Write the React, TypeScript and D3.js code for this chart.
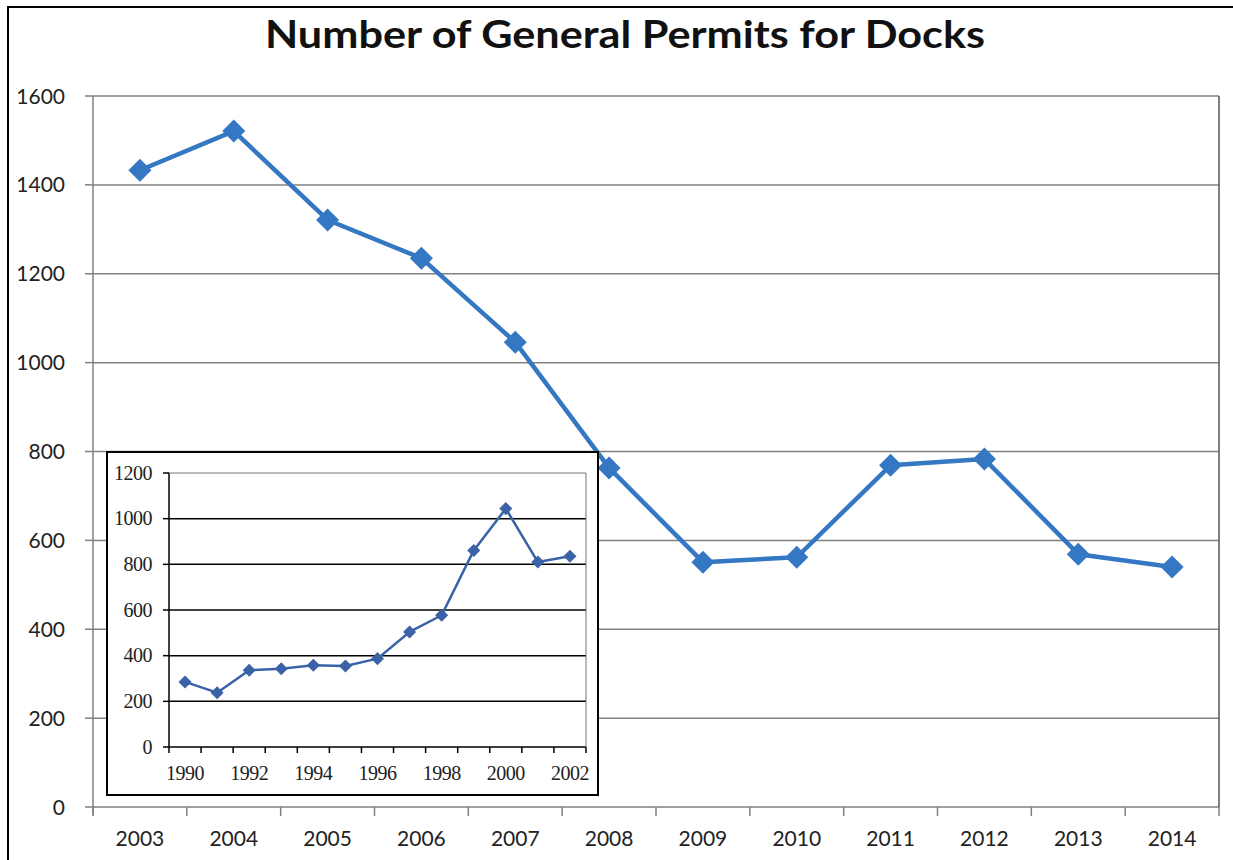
import React from "react";
import * as d3 from "d3";

const years = ["2003", "2004", "2005", "2006", "2007", "2008", "2009", "2010", "2011", "2012", "2013", "2014"];
const permits = [1433, 1521, 1321, 1235, 1046, 763, 551, 562, 769, 783, 569, 540];
const mainTicks = [0, 200, 400, 600, 800, 1000, 1200, 1400, 1600];

const insetYears = ["1990", "1991", "1992", "1993", "1994", "1995", "1996", "1997", "1998", "1999", "2000", "2001", "2002"];
const insetPermits = [285, 238, 336, 343, 358, 355, 387, 504, 577, 861, 1044, 810, 835];
const insetTicks = [0, 200, 400, 600, 800, 1000, 1200];

const title = "Number of General Permits for Docks";

export default function App() {
  // main plot
  const L = 93, R = 1219, T = 96, B = 807;
  const x = d3.scaleBand<string>().domain(years).range([L, R]).padding(0);
  const y = d3.scaleLinear().domain([0, 1600]).range([B, T]);
  const line = d3
    .line<number>()
    .x((_, i) => (x(years[i]) as number) + x.bandwidth() / 2)
    .y((d) => y(d));
  const diamond = d3.symbol().type(d3.symbolSquare).size(265)() as string;

  // inset plot
  const iL = 169, iR = 586, iT = 473, iB = 747;
  const ix = d3.scaleBand<string>().domain(insetYears).range([iL, iR]).padding(0);
  const iy = d3.scaleLinear().domain([0, 1200]).range([iB, iT]);
  const iline = d3
    .line<number>()
    .x((_, i) => (ix(insetYears[i]) as number) + ix.bandwidth() / 2)
    .y((d) => iy(d));
  const idiamond = d3.symbol().type(d3.symbolSquare).size(85)() as string;

  const mainBlue = "#3477c2";
  const insetBlue = "#3a62a6";
  const sans = "Lato, 'Open Sans', sans-serif";
  const serif = "'Liberation Serif', 'DejaVu Serif', serif";

  const boundaries = years.map((yr) => x(yr) as number).concat([R]);
  const iBoundaries = insetYears.map((yr) => ix(yr) as number).concat([iR]);

  return (
    <svg
      width={1233}
      height={860}
      style={{ position: "absolute", left: 0, top: 0, background: "#fff" }}
    >
      <rect x={0} y={0} width={1233} height={860} fill="#fff" />
      {/* outer border (left and top visible) */}
      <path d="M8,860 L8,7 L1233,7" fill="none" stroke="#000" strokeWidth={2} />

      {/* title */}
      <text
        x={625}
        y={48}
        textAnchor="middle"
        fontFamily={sans}
        fontWeight={700}
        fontSize={38}
        fill="#111"
        textLength={720}
        lengthAdjust="spacingAndGlyphs"
      >
        {title}
      </text>

      {/* main gridlines */}
      {mainTicks.map((t) => (
        <line key={"g" + t} x1={L} x2={R} y1={y(t)} y2={y(t)} stroke="#808080" strokeWidth={1.5} />
      ))}
      {/* right border */}
      <line x1={R} x2={R} y1={T} y2={B} stroke="#555" strokeWidth={1.5} />
      {/* y axis */}
      <line x1={L} x2={L} y1={T} y2={B + 8} stroke="#808080" strokeWidth={1.5} />
      {mainTicks.map((t) => (
        <g key={"yt" + t}>
          <line x1={L - 8} x2={L} y1={y(t)} y2={y(t)} stroke="#808080" strokeWidth={1.5} />
          <text x={65} y={y(t)} dy="0.36em" textAnchor="end" fontFamily={sans} fontSize={21} fill="#222">
            {t}
          </text>
        </g>
      ))}
      {/* x axis ticks */}
      {boundaries.map((bx, i) => (
        <line key={"xt" + i} x1={bx} x2={bx} y1={B} y2={B + 9} stroke="#808080" strokeWidth={1.5} />
      ))}
      {years.map((yr) => (
        <text
          key={"xl" + yr}
          x={(x(yr) as number) + x.bandwidth() / 2}
          y={838}
          dy="0.36em"
          textAnchor="middle"
          fontFamily={sans}
          fontSize={21}
          fill="#222"
        >
          {yr}
        </text>
      ))}

      {/* main line */}
      <path d={line(permits) as string} fill="none" stroke={mainBlue} strokeWidth={4.5} strokeLinejoin="round" />
      {permits.map((v, i) => (
        <path
          key={"m" + i}
          d={diamond}
          transform={`translate(${(x(years[i]) as number) + x.bandwidth() / 2},${y(v)}) rotate(45)`}
          fill={mainBlue}
        />
      ))}

      {/* inset */}
      <rect x={107} y={452} width={491} height={343} fill="#fff" stroke="#000" strokeWidth={2} />
      {insetTicks.map((t) => (
        <line
          key={"ig" + t}
          x1={iL}
          x2={iR}
          y1={iy(t)}
          y2={iy(t)}
          stroke={t === 1200 ? "#777" : "#000"}
          strokeWidth={t === 1200 ? 1 : 1.5}
        />
      ))}
      <line x1={iR} x2={iR} y1={iT} y2={iB} stroke="#777" strokeWidth={1} />
      <line x1={iL} x2={iL} y1={iT} y2={iB} stroke="#000" strokeWidth={1.5} />
      {insetTicks.map((t) => (
        <g key={"iyt" + t}>
          <line x1={iL - 6} x2={iL} y1={iy(t)} y2={iy(t)} stroke="#000" strokeWidth={1.5} />
          <text x={152} y={iy(t)} dy="0.34em" textAnchor="end" fontFamily={serif} fontSize={20} fill="#222" letterSpacing={-0.5}>
            {t}
          </text>
        </g>
      ))}
      {iBoundaries.map((bx, i) => (
        <line key={"ixt" + i} x1={bx} x2={bx} y1={iB} y2={iB + 6} stroke="#000" strokeWidth={1.5} />
      ))}
      {insetYears.map((yr, i) =>
        i % 2 === 0 ? (
          <text
            key={"ixl" + yr}
            x={(ix(yr) as number) + ix.bandwidth() / 2}
            y={773}
            dy="0.34em"
            textAnchor="middle"
            fontFamily={serif}
            fontSize={20}
            fill="#222"
            letterSpacing={-0.5}
          >
            {yr}
          </text>
        ) : null
      )}
      <path d={iline(insetPermits) as string} fill="none" stroke={insetBlue} strokeWidth={2.5} strokeLinejoin="round" />
      {insetPermits.map((v, i) => (
        <path
          key={"im" + i}
          d={idiamond}
          transform={`translate(${(ix(insetYears[i]) as number) + ix.bandwidth() / 2},${iy(v)}) rotate(45)`}
          fill={insetBlue}
        />
      ))}
    </svg>
  );
}
